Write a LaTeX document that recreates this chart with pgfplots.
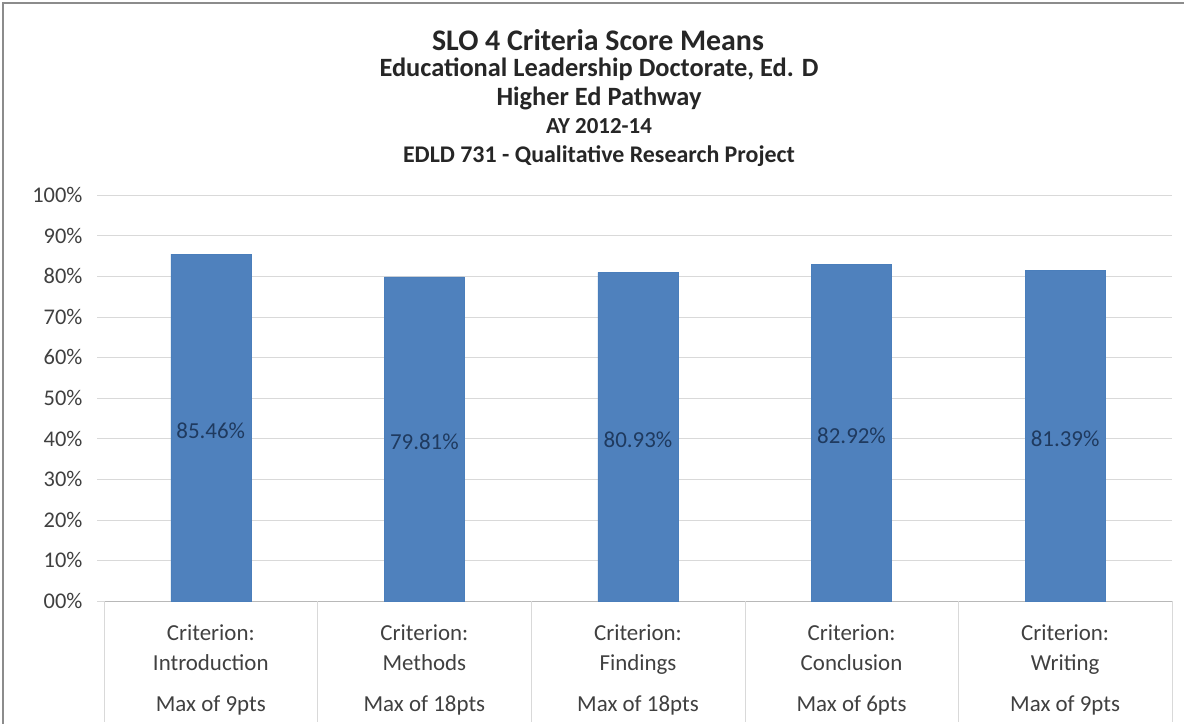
\documentclass[border=0pt]{standalone}
\usepackage{pgfplots}
\pgfplotsset{compat=1.18}
\usepackage{pgfplotstable}
\usepackage{fontspec}
\setmainfont{Carlito}
\definecolor{barblue}{HTML}{4F81BD}
\definecolor{barline}{HTML}{4A7EBB}
\definecolor{gridc}{HTML}{D9D9D9}
\definecolor{txt}{HTML}{404040}
\definecolor{lab}{HTML}{1F3A5F}

\pgfplotstableread{
x y
0 85.46
1 79.81
2 80.93
3 82.92
4 81.39
}\scores

\begin{document}
\begin{tikzpicture}
\useasboundingbox (0bp,0bp) rectangle (1184bp,724bp);
\fill[white] (0bp,0bp) rectangle (1184bp,724bp);
\draw[black!45, line width=1.5bp] (3bp,0bp) -- (3bp,721bp) -- (1184bp,721bp);
\node[font=\fontsize{30}{34}\selectfont\bfseries, text=black!85] at (598bp,684bp) {SLO 4 Criteria Score Means};
\node[font=\fontsize{26.5}{30}\selectfont\bfseries, text=black!85] at (599bp,655bp) {Educational Leadership Doctorate, Ed. D};
\node[font=\fontsize{26.5}{30}\selectfont\bfseries, text=black!85] at (599bp,626bp) {Higher Ed Pathway};
\node[font=\fontsize{23}{26}\selectfont\bfseries, text=black!85] at (599bp,598bp) {AY 2012-14};
\node[font=\fontsize{24}{28}\selectfont\bfseries, text=black!85] at (599bp,568bp) {EDLD 731 - Qualitative Research Project};
\begin{axis}[
  at={(104bp,123bp)}, anchor=south west,
  scale only axis, width=1068bp, height=406bp,
  xmin=-0.5, xmax=4.5, ymin=0, ymax=100,
  axis x line*=bottom, axis y line*=left,
  y axis line style={draw=none},
  x axis line style={draw=gridc!85!black, -},
  ytick={0,10,20,30,40,50,60,70,80,90,100},
  yticklabels={00\%,10\%,20\%,30\%,40\%,50\%,60\%,70\%,80\%,90\%,100\%},
  ymajorgrids, grid style={gridc},
  ytick style={draw=gridc},
  major tick length=7bp, tick align=outside,
  yticklabel style={font=\fontsize{22.5}{26}\selectfont, text=txt, xshift=-11bp},
  xtick={0,1,2,3,4},
  xticklabels={
    {Criterion:\\Introduction\\[11bp]Max of 9pts},
    {Criterion:\\Methods\\[11bp]Max of 18pts},
    {Criterion:\\Findings\\[11bp]Max of 18pts},
    {Criterion:\\Conclusion\\[11bp]Max of 6pts},
    {Criterion:\\Writing\\[11bp]Max of 9pts}},
  xticklabel style={font=\fontsize{23}{30}\selectfont, text=txt, align=center, anchor=north, yshift=-13bp},
  xtick style={draw=none},
  extra x ticks={-0.5,0.5,1.5,2.5,3.5,4.5},
  extra x tick labels={},
  extra x tick style={xtick style={draw=gridc}, major tick length=121bp, tick align=outside, xmajorgrids=false},
  clip=false,
]
\addplot[ybar, bar width=80bp, fill=barblue, draw=barline] table[x=x, y=y] {\scores};
\addplot[draw=none, mark=none,
  nodes near coords={\pgfmathprintnumber[fixed,fixed zerofill,precision=2,assume math mode=true]{\pgfplotspointmeta}\%},
  point meta=\thisrow{y},
  every node near coord/.append style={anchor=center, font=\fontsize{23}{26}\selectfont, text=lab, yshift=-3bp}]
  table[x=x, y expr=\thisrow{y}/2] {\scores};
\end{axis}
\end{tikzpicture}
\end{document}
